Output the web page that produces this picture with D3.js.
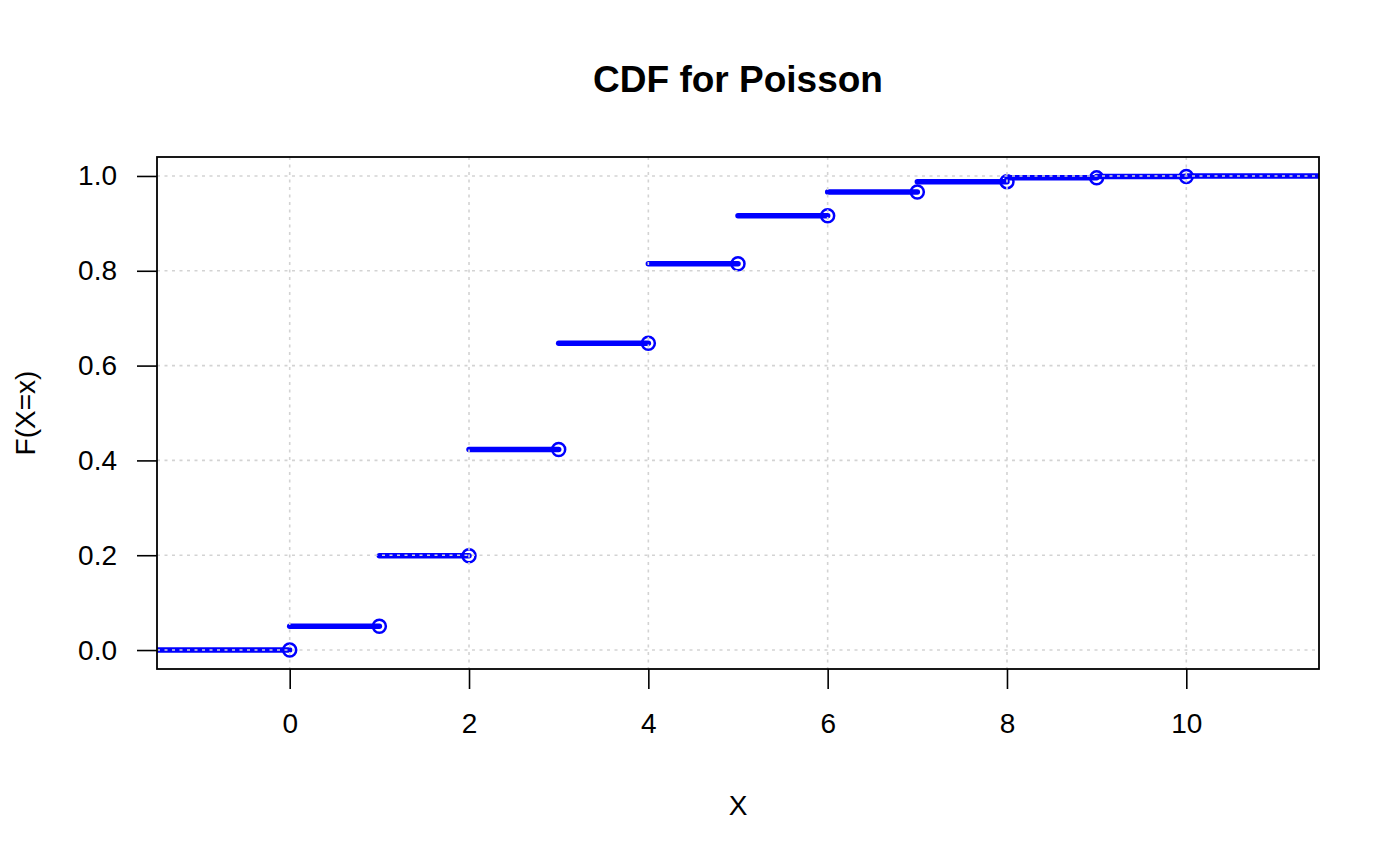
<!DOCTYPE html>
<html>
<head>
<meta charset="utf-8">
<script src="https://cdn.jsdelivr.net/npm/d3@7"></script>
<style>
  body { margin: 0; background: #fff; }
  text { font-family: "Liberation Sans", Arial, sans-serif; fill: #000; }
</style>
</head>
<body>
<div id="viz"></div>
<script>
// Poisson CDF step values
var knots = [0, 1, 2, 3, 4, 5, 6, 7, 8, 9, 10];
var cdf = [0.050, 0.199, 0.423, 0.647, 0.815, 0.916, 0.966, 0.988, 0.996, 0.999, 1.000];
var xTicks = [0, 2, 4, 6, 8, 10];
var yTicks = [0, 0.2, 0.4, 0.6, 0.8, 1.0];
var xDomain = [-1.48, 11.48];
var yDomain = [-0.04, 1.04];

(function() {
  var width = 1400, height = 866,
      pLeft = 157, pRight = 1319, pTop = 157, pBottom = 669;

  var x = d3.scaleLinear().domain(xDomain).range([pLeft, pRight]);
  var y = d3.scaleLinear().domain(yDomain).range([pBottom, pTop]);

  var svg = d3.select("#viz").append("svg")
    .attr("width", width)
    .attr("height", height);

  svg.append("defs").append("clipPath").attr("id", "clip")
    .append("rect")
      .attr("x", pLeft).attr("y", pTop)
      .attr("width", pRight - pLeft).attr("height", pBottom - pTop);

  // step segments: left tail at 0, then each knot to the next
  var segs = [{x0: xDomain[0], x1: knots[0], y: 0}];
  knots.forEach(function(k, i) {
    var next = i < knots.length - 1 ? knots[i + 1] : xDomain[1];
    segs.push({x0: k, x1: next, y: cdf[i]});
  });

  // open points at right end of each step
  var pts = knots.map(function(k, i) {
    return {x: k, y: i == 0 ? 0 : cdf[i - 1]};
  });

  var plot = svg.append("g").attr("clip-path", "url(#clip)");

  plot.selectAll("line.seg")
    .data(segs)
    .enter()
    .append("line")
      .attr("class", "seg")
      .attr("x1", function(d) { return x(d.x0); })
      .attr("x2", function(d) { return x(d.x1); })
      .attr("y1", function(d) { return y(d.y); })
      .attr("y2", function(d) { return y(d.y); })
      .attr("stroke", "#0000ff")
      .attr("stroke-width", 5.5)
      .attr("stroke-linecap", "round");

  plot.selectAll("circle")
    .data(pts)
    .enter()
    .append("circle")
      .attr("cx", function(d) { return x(d.x); })
      .attr("cy", function(d) { return y(d.y); })
      .attr("r", 6.5)
      .attr("fill", "none")
      .attr("stroke", "#0000ff")
      .attr("stroke-width", 2.5);

  // grid drawn on top, like R's grid() after the plot
  var grid = svg.append("g");
  grid.selectAll("line.gx")
    .data(xTicks)
    .enter()
    .append("line")
      .attr("x1", x).attr("x2", x)
      .attr("y1", pTop).attr("y2", pBottom)
      .attr("stroke", "#d3d3d3")
      .attr("stroke-width", 1.6)
      .attr("stroke-dasharray", "3,4.5");
  grid.selectAll("line.gy")
    .data(yTicks)
    .enter()
    .append("line")
      .attr("y1", y).attr("y2", y)
      .attr("x1", pLeft).attr("x2", pRight)
      .attr("stroke", "#d3d3d3")
      .attr("stroke-width", 1.6)
      .attr("stroke-dasharray", "3,4.5");

  // box
  svg.append("rect")
    .attr("x", pLeft).attr("y", pTop)
    .attr("width", pRight - pLeft).attr("height", pBottom - pTop)
    .attr("fill", "none")
    .attr("stroke", "#000")
    .attr("stroke-width", 1.8);

  // axes
  var xAxis = svg.append("g")
    .attr("transform", "translate(0," + pBottom + ")")
    .call(d3.axisBottom(x).tickValues(xTicks).tickSize(20).tickPadding(24)
      .tickFormat(d3.format("d")));
  var yAxis = svg.append("g")
    .attr("transform", "translate(" + pLeft + ",0)")
    .call(d3.axisLeft(y).tickValues(yTicks).tickSize(20).tickPadding(20)
      .tickFormat(d3.format(".1f")));

  [xAxis, yAxis].forEach(function(a) {
    a.select(".domain").remove();
    a.selectAll(".tick line").attr("stroke", "#000").attr("stroke-width", 1.6);
    a.selectAll(".tick text").style("font-size", "28px").attr("fill", "#000");
  });

  // titles
  svg.append("text")
    .attr("x", (pLeft + pRight) / 2)
    .attr("y", 92)
    .attr("text-anchor", "middle")
    .style("font-size", "37px")
    .style("font-weight", "bold")
    .text("CDF for Poisson");

  svg.append("text")
    .attr("x", (pLeft + pRight) / 2)
    .attr("y", 815)
    .attr("text-anchor", "middle")
    .style("font-size", "28px")
    .text("X");

  svg.append("text")
    .attr("transform", "translate(35," + ((pTop + pBottom) / 2) + ") rotate(-90)")
    .attr("text-anchor", "middle")
    .style("font-size", "28px")
    .text("F(X=x)");
})();
</script>
</body>
</html>
